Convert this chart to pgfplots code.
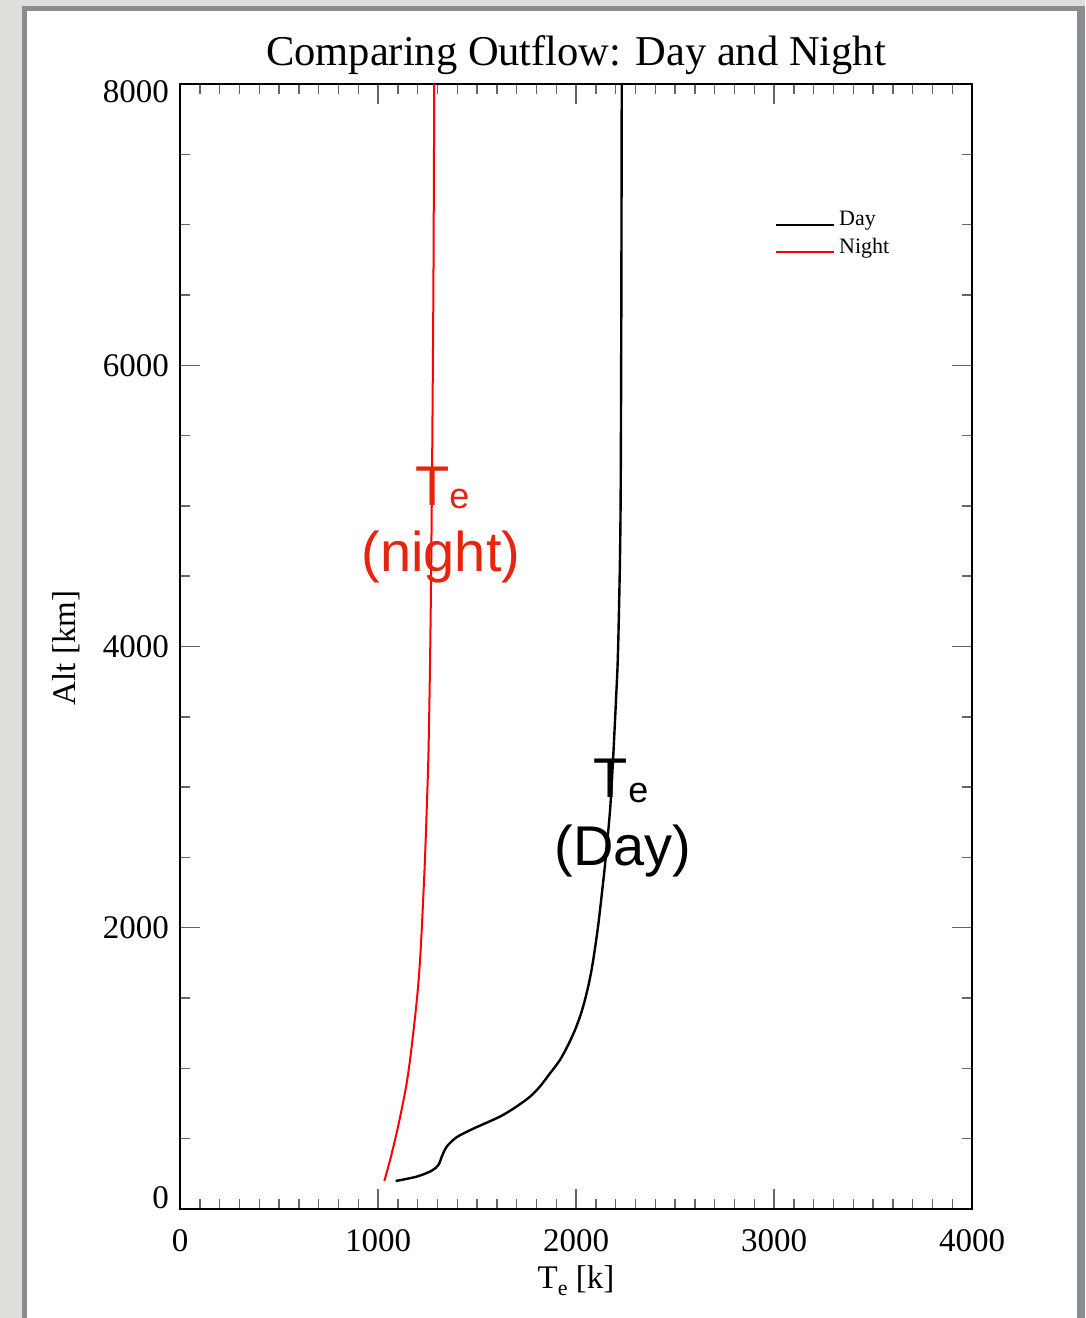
\documentclass[border=0pt]{standalone}
\usepackage{fontspec}
\setmainfont{Liberation Serif}
\newfontfamily\annfont{Liberation Sans}
\usepackage{pgfplots}
\pgfplotsset{compat=1.18}
\usepackage{pgfplotstable}

\definecolor{pagegray}{RGB}{222,222,218}
\definecolor{framegray}{RGB}{138,140,145}
\definecolor{annred}{RGB}{230,36,16}

% electron temperature profiles: T_e [K], altitude [km]
\pgfplotstableread{
T     alt
1089  199
1195  230
1271  272
1305  313
1322  372
1347  443
1397  510
1481  571
1616  657
1700  729
1768  799
1818  871
1869  965
1919  1060
1960  1166
1995  1273
2023  1380
2045  1486
2069  1630
2087  1771
2111  2005
2131  2247
2149  2482
2172  2837
2187  3193
2202  3620
2212  3954
2222  4615
2226  5184
2229  6464
2231  8000
}\dayTe

\pgfplotstableread{
T     alt
1032  199
1061  348
1094  540
1121  718
1145  896
1163  1074
1178  1252
1192  1429
1204  1607
1213  1785
1220  1963
1228  2197
1237  2482
1246  2837
1254  3193
1259  3548
1263  3904
1268  4473
1274  5419
1280  6606
1284  8000
}\nightTe

\begin{document}
\begin{tikzpicture}[x=1pt,y=1pt]
\useasboundingbox (0,0) rectangle (1085,1318);
\fill[pagegray] (0,0) rectangle (1085,1318);
\fill[framegray] (22,0) rectangle (1085,1312);
\fill[white] (27,0) rectangle (1077,1307);

\begin{axis}[
  at={(180pt,109pt)}, anchor=south west,
  scale only axis, width=792pt, height=1125pt,
  xmin=0, xmax=4000, ymin=0, ymax=8000,
  xtick={0,1000,2000,3000,4000},
  xticklabels={0,1000,2000,3000,4000},
  ytick={0,2000,4000,6000,8000},
  yticklabels={\raisebox{11pt}{0},2000,4000,6000,\raisebox{-8pt}{8000}},
  minor x tick num=9, minor y tick num=3,
  xtick pos=both, ytick pos=both,
  tick align=inside,
  major tick length=20pt, minor tick length=10pt,
  tick style={black!60, line width=1.4pt},
  axis line style={black, line width=1.4pt},
  ticklabel style={font=\fontsize{33}{36}\selectfont},
  xticklabel style={inner sep=0pt, yshift=-20pt},
  yticklabel style={inner sep=0pt, anchor=base east, xshift=-11pt, yshift=-11pt},
  legend style={draw=none, fill=none, at={(axis cs:3005,7104)}, anchor=north west,
    inner sep=0pt, font=\fontsize{22}{24}\selectfont, row sep=9pt,
    nodes={inner sep=1pt},
    /tikz/every odd column/.append style={column sep=3pt}},
  legend cell align=left,
  legend image code/.code={\draw[#1, line width=2pt] (0pt,-6pt) -- (58pt,-6pt);},
  clip=false,
]
\addplot[black, line width=2.4pt, smooth] table[x=T, y=alt] {\dayTe};
\addlegendentry{Day}
\addplot[red, line width=2pt, smooth] table[x=T, y=alt] {\nightTe};
\addlegendentry{Night}

% curve annotations
\node[annred, anchor=base, font=\annfont\fontsize{56}{60}\selectfont] at (axis cs:1275,5006) {T};
\node[annred, anchor=base west, inner sep=0pt, font=\annfont\fontsize{36}{40}\selectfont] at (axis cs:1359,4978) {e};
\node[annred, anchor=base, font=\annfont\fontsize{56}{60}\selectfont] at (axis cs:1318,4530) {(night)};
\node[black, anchor=base, font=\annfont\fontsize{56}{60}\selectfont] at (axis cs:2177,2923) {T};
\node[black, anchor=base west, inner sep=0pt, font=\annfont\fontsize{36}{40}\selectfont] at (axis cs:2263,2894) {e};
\node[black, anchor=base, font=\annfont\fontsize{56}{60}\selectfont] at (axis cs:2237,2446) {(Day)};
\end{axis}

% title and axis labels
\node[anchor=base, font=\fontsize{42.5}{46}\selectfont] at (576,1252) {Comparing Outflow: Day and Night};
\node[anchor=base, font=\fontsize{33}{36}\selectfont] at (576,29) {T\raisebox{-7pt}{\fontsize{22}{22}\selectfont e} [k]};
\node[anchor=base, rotate=90, font=\fontsize{33}{36}\selectfont] at (75,670) {Alt [km]};
\end{tikzpicture}
\end{document}
